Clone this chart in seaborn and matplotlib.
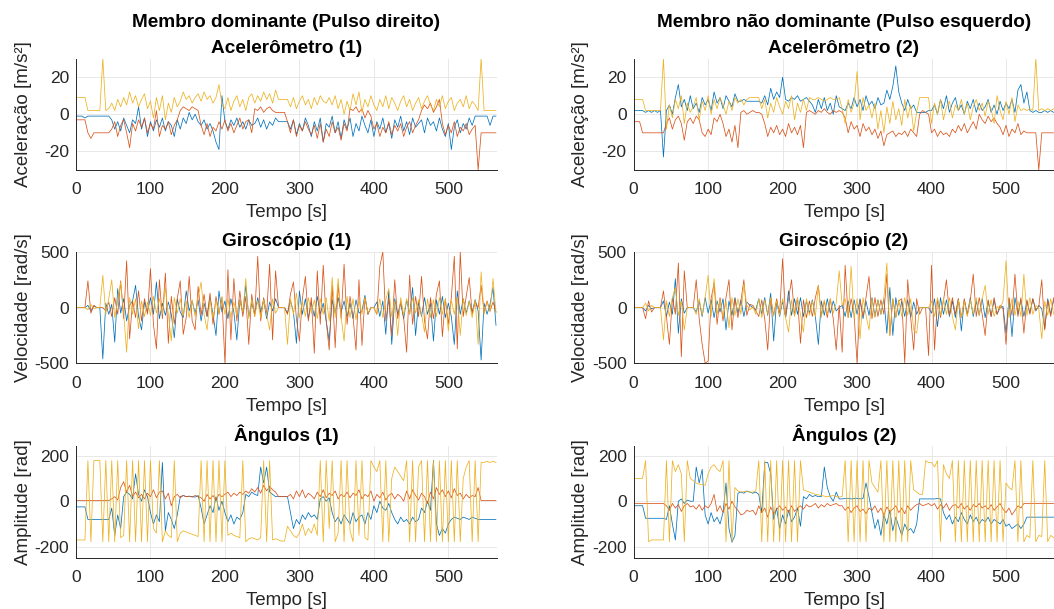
"""
Sinais de IMU - pulso direito e pulso esquerdo
"""

import numpy as np
import pandas as pd
import matplotlib
matplotlib.use("Agg")
import matplotlib.pyplot as plt
import seaborn as sns

sns.set_theme(style="white")
plt.rcParams["font.family"] = ["Liberation Sans", "DejaVu Sans"]
plt.rcParams["axes.unicode_minus"] = False

DT = 4  # s entre amostras lidas

# -------------------------------------------------------
# Acelerômetro (m/s²)
# -------------------------------------------------------
acc1_x = [-1, -1, -1, -2, -1, -1, -1, -1, -1, -1,
          -1, -1, -3, -8, -4, -9, -2, -6, -10, -3,
          -5, 4, -8, -2, -12, -4, -9, -3, -7, -2,
          -9, -4, -6, -12, -3, -8, -2, -5, 1, -3,
          0, -4, -6, -3, -8, -5, -9, -15, -19, 10,
          -4, -8, -3, -6, -2, -7, -4, -8, -3, -6,
          -5, -2, -7, -3, -8, -4, -6, -2, -4, -4,
          -4, -4, -8, -3, -11, -5, -9, -2, -6, -12,
          -4, -9, -2, -15, -5, -7, -1, -10, -4, -13,
          -3, -8, -2, -12, -5, -9, -1, -6, -10, -3,
          -12, -4, -8, -2, -10, -5, -13, -3, -7, -1,
          -9, -4, -11, -2, -7, -5, -3, -10, -2, -6,
          -4, -9, -2, -8, -12, -5, -19, -7, -3, -10,
          -5, -8, -2, -6, -1, -1, -1, -1, -1, -6,
          -1, -1]
acc1_y = [-3, -3, -3, -3, -10, -13, -10, -10, -10, -10,
          -10, -10, -8, -4, -12, -6, -3, -10, -18, -5,
          -9, -3, -7, -2, -10, -5, -8, 2, -12, -6,
          -8, -4, -11, -6, -3, 2, 4, 3, 2, 4,
          3, 2, -6, -11, -5, -12, -7, -9, -4, -8,
          -3, -9, -5, -10, -6, -2, -8, -4, -3, -10,
          3, 2, 4, 1, 3, 4, 2, 1, 1, 1,
          1, -4, -10, -3, -12, -6, -9, -4, -8, -11,
          -6, -13, -5, -15, -8, -12, -4, -10, -7, -14,
          -5, -9, 3, 2, 4, 1, 3, -2, 2, -1,
          -8, -5, -12, -7, -10, -4, -11, -6, -9, -5,
          -12, -7, -4, -10, -6, -3, 2, 5, 3, 6,
          1, 4, 8, -5, -11, -6, -10, -4, -12, -7,
          -9, -5, -11, -8, -6, -30, -10, -10, -10, -10,
          -10, -10]
acc1_z = [9, 9, 9, 9, 2, 2, 2, 2, 2, 30,
          2, 3, 6, 2, 8, 4, 9, 5, 12, 6,
          10, 4, 8, 11, 3, 7, -2, 9, 2, 10,
          -3, 6, 1, 9, 4, 7, 12, 8, 10, 6,
          9, 11, 7, 12, 8, 10, 6, 9, 16, 5,
          3, 9, 2, 7, 10, 4, 8, 2, 9, 11,
          6, 10, 7, 12, 8, 11, 6, 13, 8, 8,
          8, 8, 4, 9, 3, 7, 10, 5, 8, 3,
          9, 5, 10, 7, 6, 9, 5, 10, 3, 8,
          0, 7, 2, 11, 5, 12, 1, 8, 4, 10,
          5, 2, 8, 4, 10, 3, 9, 6, 2, 7,
          10, 4, 8, 2, 6, 9, 3, 7, 10, 5,
          2, 8, 4, 10, 3, 7, 9, 2, 6, 8,
          4, 10, 3, 7, 5, 2, 30, 2, 2, 2,
          2, 2]

acc2_x = [2, 2, 2, 2, 1, 2, 1, 2, 1, 2,
          -23, 2, 5, 0, 9, 16, 4, 8, 2, 10,
          3, 6, 1, 9, 5, 8, 2, 12, 6, 9,
          3, 10, 7, 4, 11, 7, 7, 8, 7, 7,
          7, 7, 7, 6, 10, 5, 14, 8, 12, 9,
          20, 8, 7, 9, 8, 10, 7, 8, 9, 7,
          5, 1, 8, 3, 9, 2, 6, 0, 10, 4,
          3, 2, 6, 3, 9, 4, 8, 2, 10, 5,
          7, 3, 9, 5, 6, 13, 8, 15, 26, 12,
          6, 2, 8, 3, 5, 1, 1, 1, 1, 2,
          2, 5, 0, 8, 3, 10, 1, 6, 9, 2,
          5, 0, 7, 3, 8, 1, 6, 2, 4, 8,
          1, 5, 0, 7, 2, 6, 3, 8, 1, 13,
          16, 6, 12, 2, 1, 2, 1, 1, 2, 1,
          2, 1]
acc2_y = [-4, -4, -4, -10, -10, -10, -10, -10, -10, -10,
          -10, -5, -2, -8, -3, -1, -5, -14, -4, -2,
          -5, -1, -3, -10, -12, -8, -11, -2, -4, 0,
          -5, -12, -8, -15, -6, -18, 1, 2, 0, 1,
          2, 1, 1, 0, -5, -12, -7, -10, -6, -11,
          -8, -12, -5, -10, -7, -11, -6, -18, 1, 2,
          1, 0, 2, 1, 3, 1, 0, 2, 1, 2,
          1, -2, -10, -4, -8, -6, -12, -5, -9, -7,
          -11, -8, -13, -9, -17, -11, -10, -9, -12, -10,
          -11, -9, -12, -8, -10, -12, 0, 2, 1, 0,
          -10, -8, -12, -9, -11, -10, -12, -8, -10, -6,
          -9, -5, -10, -7, -4, -8, 0, -3, -5, -1,
          -4, -2, -5, -7, -11, -6, -12, -8, -10, -5,
          -11, -9, -10, -10, -10, -10, -30, -10, -10, -10,
          -10, -10]
acc2_z = [8, 8, 8, 8, 2, 2, 2, 2, 2, 2,
          30, -8, 5, -2, 8, 3, 10, -5, 6, 1,
          4, 9, -3, 7, 2, 10, 0, 8, 3, 9,
          5, 0, 7, 2, 9, 6, 8, 5, 8, 9,
          9, 9, 9, 3, 8, -2, 6, 1, 9, 4,
          0, 7, 3, 10, -3, 6, 1, 8, 2, 9,
          8, 8, 9, 8, 7, 8, 9, 8, 8, 9,
          3, -5, 8, 1, 6, 23, -3, 9, 2, 5,
          -2, 6, -8, 2, -10, 4, -5, 7, -3, 3,
          -6, 8, -2, 5, -9, 1, 9, 9, 9, 9,
          -5, 6, 0, 8, -3, 4, 7, -2, 5, 2,
          8, 0, 6, -3, 4, 8, 2, 6, -1, 7,
          3, -5, 10, 2, -3, 7, 0, 9, -4, 5,
          2, 3, 2, 3, 2, 30, 2, 3, 2, 3,
          2, 3]

# -------------------------------------------------------
# Giroscópio (rad/s)
# -------------------------------------------------------
gyr1_x = [0, 0, 0, 0, 20, -30, 15, 0, 0, -460,
          40, -60, 30, -310, 170, -50, 80, -120, 20, 60,
          200, -80, -200, 50, -40, 90, -60, 230, -100, 40,
          -70, 50, -60, -270, 80, -40, -90, 150, -30, 60,
          -50, 70, -120, 40, -80, 90, -60, -250, 150, -40,
          60, -100, 80, -40, -290, 70, -50, 200, -80, 40,
          -60, 90, -40, 70, -100, 50, -30, 80, 0, 0,
          0, -50, 60, -40, -320, 150, -60, 80, -100, 50,
          -80, 100, -60, 40, -120, -300, 70, -50, 90, -40,
          60, -80, 40, -100, 70, -50, -30, 110, -60, 0,
          0, 50, -80, 60, -240, 150, -330, 80, -60, 40,
          -100, 70, -60, 180, -250, 50, -80, 90, -60, 40,
          -300, 70, -60, 100, -90, 40, -80, -330, 150, -60,
          80, -50, 60, -40, 70, -30, -470, 40, -60, 30,
          180, -160]
gyr1_y = [0, 0, 0, 0, 240, -50, 20, 0, 0, 0,
          -30, 50, -80, 90, -60, 240, -100, 420, -280, 60,
          -90, 150, -120, 80, -60, 350, -150, -370, 250, -100,
          310, -320, 100, -150, 80, 240, -240, -90, 280, -120,
          -200, 190, -70, 120, -80, 130, -150, 100, -60, 90,
          -500, 340, -290, 260, -120, 150, -80, 100, -330, 120,
          -80, 460, -120, 90, -60, 390, -290, 330, 0, 0,
          0, -60, 120, 230, -100, -300, 80, 280, -120, 90,
          -410, 330, -150, 380, -120, -380, 200, -360, 210, -100,
          390, -150, 100, -80, -380, 250, -340, 90, -60, 0,
          0, -60, 370, 500, -120, 80, -250, 250, -100, 60,
          -90, -400, 290, -150, 100, -80, 280, -120, -280, 90,
          -100, 120, 240, -260, 80, -150, 90, 460, -370, 500,
          -80, 100, 270, -60, 50, 0, 200, -40, 60, -30,
          50, -40]
gyr1_z = [0, 0, 0, 0, -20, 30, -10, 0, 0, 290,
          -60, 80, 250, -90, 60, 230, -50, -400, 90, -60,
          80, -190, 60, -80, 50, -70, 100, -50, 80, -60,
          180, -60, -300, 90, -50, 80, -70, 60, -90, 70,
          -80, 90, 230, -60, -200, 70, -90, 60, -50, 100,
          -60, 80, -90, 50, -70, 60, -40, 260, -100, 70,
          -80, 60, -90, 70, -60, -200, 80, -50, 0, 0,
          0, -330, 80, -60, 130, -90, 60, -80, 90, -50,
          70, -100, 80, -60, 90, -120, 270, -90, 260, -80,
          -300, 100, -90, 80, -110, 70, -60, 90, -50, 0,
          0, -60, 80, -90, 70, 170, -80, 60, -250, 90,
          -70, 80, -60, 90, -50, 70, -60, -220, 80, -90,
          70, -80, 90, -60, 80, -210, 70, -60, 90, -250,
          80, -70, 60, -90, 70, -330, 320, -60, 50, -40,
          260, -50]

gyr2_x = [0, 0, 0, 0, -30, 20, -10, 0, 0, 0,
          60, -80, 50, -60, 260, -230, 80, -50, 0, 0,
          0, -40, 60, -80, 90, -50, 70, -90, 60, -40,
          80, -200, 60, -70, 90, -50, 70, -80, 50, 20,
          0, -20, 80, -60, 90, -70, 130, -300, 60, -80,
          60, -90, 150, -70, 80, -60, 90, -80, 60, -50,
          70, -80, -330, 60, -70, 80, -50, 60, -30, 0,
          20, -80, 60, -90, 70, -60, 80, -100, 60, -70,
          90, -80, 70, -60, 80, -230, 180, -250, 90, -70,
          60, -80, 70, -90, 50, -60, 0, 0, 0, 0,
          -50, 80, -170, 90, -60, 70, -80, 60, -90, 80,
          -210, 70, -60, 90, -80, 60, -70, 80, -90, 60,
          -80, 70, -60, 0, 10, -230, 80, -260, 90, -60,
          70, -80, 60, -50, 80, -30, 20, -10, -190, 80,
          -60, 70]
gyr2_y = [0, 0, 0, 0, -100, 60, -40, 0, 0, 0,
          150, -80, -330, 90, -60, 400, -440, 330, 0, 0,
          0, 250, -100, -330, -500, -480, 80, 220, -150, 90,
          -120, 90, 250, -200, 80, -90, 60, 250, -70, 30,
          20, -30, -80, 70, -100, -380, 90, -70, 80, -60,
          440, -90, 80, 250, -70, 90, -320, 70, -90, 60,
          -80, 90, 200, -70, 60, -90, 80, -100, -380, 20,
          -400, 380, -90, 80, -60, -500, 70, -80, 90, 280,
          -100, 90, -80, 70, -60, 300, -250, 80, -90, 60,
          80, -500, 250, -90, -380, 80, -60, 0, 0, -430,
          380, -380, 80, -90, 60, 250, -70, 90, -60, 80,
          -90, 80, -70, 60, 300, -80, 90, -60, -250, 70,
          -80, 90, -60, 20, -10, -330, 90, -70, 300, -80,
          90, -230, 70, -60, 80, -20, 10, 250, -200, 70,
          -80, 90]
gyr2_z = [0, 0, 0, 0, 40, -30, 20, 0, 0, 0,
          -290, 60, -80, 90, 180, -70, 60, -200, 0, 0,
          0, -60, 80, -70, 90, 290, -80, 260, -60, 70,
          -80, 60, -180, 90, -70, 80, -60, 210, 20, -20,
          10, -60, 80, -90, 70, -60, 90, -80, 60, -70,
          80, -90, -220, 70, -80, 90, -60, -220, 80, -70,
          60, -80, 200, -90, 70, -60, 80, -50, 40, 330,
          20, 80, -90, 370, -100, 80, -280, 90, -70, -200,
          80, -90, 70, -60, 90, 400, -250, 80, -90, 70,
          -80, 90, -70, 80, -200, -230, 0, 0, 0, 0,
          60, -80, 90, -70, 80, -60, 90, -80, -200, 70,
          -90, 60, -80, 70, -60, 90, -70, 80, 200, -60,
          70, -80, 10, -10, 60, 420, -90, 80, -70, 60,
          -80, 300, -70, 90, -60, 20, -10, -280, 60, -70,
          80, -60]

# -------------------------------------------------------
# Ângulos (rad)
# -------------------------------------------------------
ang1_x = [-25, -25, -25, -25, -80, -80, -80, -80, -80, -80,
          -80, -80, -30, -150, -60, -120, 20, 40, 30, 10,
          120, 30, 0, 50, 20, -50, -100, -60, -90, 170,
          -130, -50, -80, -120, -60, 20, 25, 20, 22, 20,
          18, 25, -30, -100, -60, -20, -50, 20, -40, 0,
          -50, -90, -60, -100, -70, -80, -50, 30, 20, 40,
          30, 25, 150, 80, 150, 40, 30, 20, 20, 20,
          20, 20, -50, -120, -80, -100, -60, -80, -50, -70,
          -60, -80, 10, 20, 0, 15, -50, -90, -70, -100,
          -60, -80, -100, -50, -90, -70, -60, -100, -50, -80,
          -20, -50, 0, -30, -40, -10, -50, -80, -100, -70,
          -90, -80, -100, -70, -90, -80, -30, -50, 0, -40,
          180, -100, -150, -120, -140, -100, -80, -70, -75, -80,
          -70, -75, -80, -70, -75, -80, -80, -80, -80, -80,
          -80, -80]
ang1_y = [3, 3, 3, 3, 3, 3, 3, 3, 3, 3,
          3, 3, 10, 20, 5, 60, 85, 40, 70, 20,
          40, 15, 30, 10, 35, 20, 50, 15, 40, 45,
          10, 35, -20, 20, 30, 15, 25, 20, 22, 18,
          25, 20, 15, 0, 30, 10, 25, 5, 30, 20,
          30, 40, 20, 35, 25, 40, 30, 45, 35, 55,
          40, 60, 35, 70, 45, 65, 50, 40, 20, 20,
          20, 20, 30, 10, 45, 20, 50, 15, 35, 25,
          10, 40, 20, 50, 15, 35, 25, 45, 10, 30,
          20, 40, 15, 35, 25, 50, 10, 30, 20, 45,
          0, 30, 15, 40, 5, 25, 35, 10, 30, 20,
          0, 45, 10, 50, 25, 5, 35, 20, -10, 40,
          10, 60, 30, 50, 20, 45, 15, 55, 25, 35,
          10, 30, 15, 25, 20, 60, 3, 3, 3, 3,
          3, 3]
ang1_z = [-170, -170, -170, -170, 178, -178, 178, 178, 178, -178,
          178, -178, 178, -178, 178, -160, -150, 178, -178, 178,
          -178, 178, -178, 178, -178, 178, -120, -140, 178, -178,
          -130, -150, -160, 178, -178, -140, -130, -135, -140, -145,
          -150, -155, 178, -178, 178, -178, 178, -178, 178, -178,
          178, -150, -140, -150, -155, -160, 178, -178, -165, -160,
          -165, -170, -160, 178, -178, 178, -170, -165, -170, -175,
          -175, -110, -130, -150, -160, -140, -100, -150, -120, -140,
          -100, -150, 178, -178, 178, -120, 178, -178, -140, 178,
          -178, 178, -130, -178, 178, -150, 178, -160, -170, 178,
          150, 130, 178, -178, 178, -178, 100, 150, 130, 110,
          90, 178, -178, 178, -178, 150, 178, -178, 178, -178,
          178, -178, 178, -178, 178, -178, 178, -178, 178, -178,
          100, 150, 178, -178, 178, -178, 170, 170, 175, 170,
          175, 170]

ang2_x = [-20, -20, -20, -20, -75, -75, -75, -75, -75, -75,
          -75, -80, -20, -100, -170, 0, 10, -10, 5, 0,
          0, 150, 80, 140, -60, -100, -50, -90, -70, -100,
          -50, 80, -120, -180, -150, 35, 40, 35, 45, 40,
          35, 40, 30, -50, 170, 170, 120, -80, -30, -120,
          -60, -100, -40, -90, -70, -30, -110, 20, 10, 30,
          20, 25, 20, 20, 150, 60, 20, 0, 40, 10,
          10, 12, 13, 10, 12, 13, 10, 12, 80, 20,
          -50, -120, -80, -150, -60, -100, -40, -130, -70, -110,
          -150, -100, -130, -120, -140, -100, 10, 10, 10, 10,
          10, 10, 12, 10, -50, -80, -60, -100, -70, -90,
          -50, -80, -100, -60, -90, -70, -100, -80, -90, -70,
          -100, -80, -90, -100, -80, -110, -100, -120, -110, -100,
          -120, -100, -70, -70, -70, -70, -70, -70, -70, -70,
          -70, -70]
ang2_y = [-10, -10, -10, -10, -10, -10, -10, -10, -10, -10,
          -10, -20, -40, -10, -30, -15, -45, -20, -10, -25,
          -20, -35, -15, -40, -20, -30, -10, 30, -45, -20,
          -50, -10, -35, 0, -25, -40, -60, -55, -40, -45,
          -40, -60, -20, -50, -30, -70, -25, -55, -35, -20,
          -40, -25, -50, -20, -45, -30, -20, -35, -15, -25,
          -20, -10, -30, -15, -25, -10, -20, -15, -10, -20,
          -20, -40, -25, -50, -30, -20, -45, -35, -55, -30,
          -40, -20, -50, -30, -60, -25, -45, -35, -20, -50,
          -30, -55, -20, -40, -25, -15, -10, -20, -15, -10,
          -20, -10, -35, -15, -30, -10, -40, -20, -15, -30,
          -10, -35, -20, -40, -15, -25, -10, -30, -20, -35,
          -15, -40, -25, -10, -35, -50, -30, -60, -40, -20,
          -30, -10, -10, -10, -10, -10, -10, -10, -10, -10,
          -10, -10]
ang2_z = [100, 100, 100, 100, 178, -178, -170, -170, -170, -170,
          -170, 178, -178, 178, 130, 160, 120, -178, 178, 100,
          90, 80, 75, 72, 70, 120, 150, 160, 140, 130,
          178, -178, 178, -178, 60, 45, 40, 42, 43, 40,
          40, 45, 178, -178, 178, -178, 178, -178, 178, -178,
          178, -178, 178, -178, 178, -178, 178, 50, 45, 40,
          35, 30, 28, 25, 22, 20, 22, 25, 20, 18,
          20, 178, -178, 178, -178, 178, -178, 178, -178, 178,
          80, 60, 40, 178, -178, 178, -178, 178, -178, 178,
          -178, 178, -178, 178, 50, 40, 30, 30, 178, 170,
          170, 150, 178, -178, 160, 120, 100, 178, -178, 178,
          -178, 178, -178, 178, -178, 178, -178, 178, -178, 178,
          -178, 178, -178, 178, -178, 80, 60, 50, 178, -178,
          178, -178, -150, -160, 178, -178, -150, -155, 178, -178,
          -150, -160]

AXES = ["x", "y", "z"]
CORES = {"x": "#0072BD", "y": "#D95319", "z": "#EDB120"}


def to_frame(*series):
    frames = []
    for eixo, vals in zip(AXES, series):
        frames.append(pd.DataFrame({
            "Tempo": np.arange(len(vals)) * DT,
            "Valor": vals,
            "Eixo": eixo,
        }))
    return pd.concat(frames, ignore_index=True)


paineis = [
    # (linha, coluna, dados, título, ylabel, ylim, yticks)
    (0, 0, to_frame(acc1_x, acc1_y, acc1_z),
     "Membro dominante (Pulso direito)\nAcelerômetro (1)",
     "Aceleração [m/s²]", (-30, 30), [-20, 0, 20]),
    (0, 1, to_frame(acc2_x, acc2_y, acc2_z),
     "Membro não dominante (Pulso esquerdo)\nAcelerômetro (2)",
     "Aceleração [m/s²]", (-30, 30), [-20, 0, 20]),
    (1, 0, to_frame(gyr1_x, gyr1_y, gyr1_z), "Giroscópio (1)",
     "Velocidade [rad/s]", (-500, 500), [-500, 0, 500]),
    (1, 1, to_frame(gyr2_x, gyr2_y, gyr2_z), "Giroscópio (2)",
     "Velocidade [rad/s]", (-500, 500), [-500, 0, 500]),
    (2, 0, to_frame(ang1_x, ang1_y, ang1_z), "Ângulos (1)",
     "Amplitude [rad]", (-248, 241), [-200, 0, 200]),
    (2, 1, to_frame(ang2_x, ang2_y, ang2_z), "Ângulos (2)",
     "Amplitude [rad]", (-248, 241), [-200, 0, 200]),
]

fig = plt.figure(figsize=(10.54, 6.09), dpi=100)

lefts = [0.0721, 0.6012]
bottoms = [0.7209, 0.4034, 0.0842]
W, H = 0.3992, 0.1830

for linha, col, df, titulo, ylab, ylim, yticks in paineis:
    ax = fig.add_axes([lefts[col], bottoms[linha], W, H])
    sns.lineplot(data=df, x="Tempo", y="Valor", hue="Eixo", hue_order=AXES,
                 palette=CORES, estimator=None, sort=False, lw=0.55,
                 legend=False, ax=ax)
    ax.set_xlim(0, 565)
    ax.set_ylim(*ylim)
    ax.set_xticks([0, 100, 200, 300, 400, 500])
    ax.set_yticks(yticks)
    ax.grid(True, color="#e4e4e4", lw=0.6)
    ax.set_axisbelow(True)
    for s in ["top", "right"]:
        ax.spines[s].set_visible(False)
    for s in ["left", "bottom"]:
        ax.spines[s].set_color("#262626")
        ax.spines[s].set_linewidth(0.7)
    ax.tick_params(axis="both", direction="in", length=3, width=0.6,
                   colors="#262626", labelsize=12.5)
    ax.tick_params(axis="x", pad=9)
    ax.tick_params(axis="y", pad=5)
    ax.set_title(titulo, fontsize=13.7, fontweight="bold", pad=4,
                 linespacing=1.7, color="black")
    ax.set_xlabel("Tempo [s]", fontsize=13.5, color="#262626", labelpad=5)
    ax.set_ylabel(ylab, fontsize=13.5, color="#262626")
    ax.yaxis.set_label_coords(-0.105, 0.5)

fig.savefig("out.png", dpi=100)
